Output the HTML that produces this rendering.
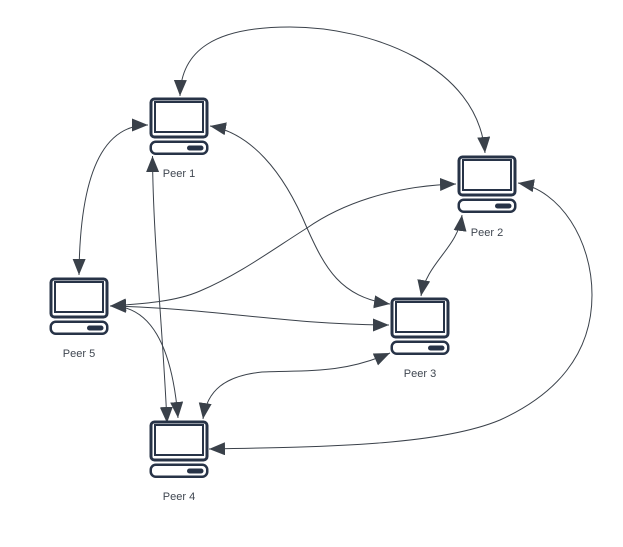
<!DOCTYPE html>
<html><head><meta charset="utf-8"><style>
html,body{margin:0;padding:0;background:#fff}
svg{display:block}
text{font-family:"Liberation Sans",sans-serif;font-size:11px;fill:#3f4650;text-anchor:middle}
.c{fill:none;stroke:#3a414a;stroke-width:1;marker-start:url(#a);marker-end:url(#a)}
</style></head><body>
<svg width="623" height="547" viewBox="0 0 623 547" xmlns="http://www.w3.org/2000/svg">
<defs>
<marker id="a" markerUnits="userSpaceOnUse" markerWidth="18" markerHeight="14" refX="16" refY="6.5" orient="auto-start-reverse"><path d="M0,0 L16,6.5 L0,13 Z" fill="#3a414a"/></marker>
<g id="pc">
<rect x="1.5" y="1.5" width="56" height="38" rx="3.5" fill="#fff" stroke="#273347" stroke-width="3"/>
<rect x="5.5" y="4.5" width="48" height="30" fill="#fff" stroke="#273347" stroke-width="2"/>
<rect x="1.25" y="44.25" width="56.5" height="12" rx="5" fill="#fff" stroke="#273347" stroke-width="2.5"/>
<rect x="37.5" y="48" width="16.5" height="5" rx="2.5" fill="#273347"/>
</g>
</defs>
<path class="c" d="M180,96 C181,50 215,27 290,27 C370,27 478,65 485,153"/>
<path class="c" d="M148,125 C115,125 80,150 79,275"/>
<path class="c" d="M210,126 C250,133 283,170 307,228 C325,268 340,297 390,304"/>
<path class="c" d="M152.5,156 C153,240 163,330 167,423"/>
<path class="c" d="M110,306 C150,305 172,345 178,418"/>
<path class="c" d="M110,306 C140,304 175,302 200,291 C240,274 275,248 307,228 C340,205 390,186 456,184"/>
<path class="c" d="M110,306 C210,308 290,325 389,325"/>
<path class="c" d="M462,215 C458,248 427,262 421,296"/>
<path class="c" d="M390,353 C340,375 300,370 262,372 C225,376 207,390 203,419"/>
<path class="c" d="M518,183 C560,190 592,240 592,295 C592,355 555,395 500,420 C440,445 330,447 209,449"/>
<use href="#pc" x="149.5" y="97.5"/>
<use href="#pc" x="457.5" y="155.5"/>
<use href="#pc" x="390.5" y="297.5"/>
<use href="#pc" x="149.5" y="420.5"/>
<use href="#pc" x="49.5" y="277.5"/>
<text x="179" y="177">Peer 1</text>
<text x="487" y="236">Peer 2</text>
<text x="420" y="377">Peer 3</text>
<text x="179" y="500">Peer 4</text>
<text x="79" y="357">Peer 5</text>
</svg>
</body></html>
